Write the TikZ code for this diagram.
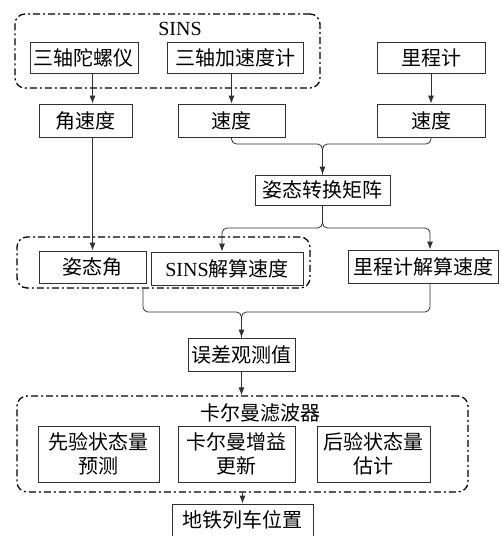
\documentclass[tikz,border=0pt]{standalone}
\usepackage{fontspec}
\setmainfont{Liberation Serif}
\newfontfamily\cjk{Noto Sans CJK SC}
\usetikzlibrary{arrows.meta}
\definecolor{ln}{HTML}{303030}
\tikzset{
  box/.style={draw=ln, line width=0.8pt, rectangle, inner sep=0pt, minimum height=32pt,
    font=\fontsize{20pt}{24pt}\selectfont\cjk, align=center, text=black},
  grp/.style={draw=black, line width=1.3pt, rectangle, rounded corners=10pt, inner sep=0pt,
    dash pattern=on 7pt off 3pt on 2pt off 3pt},
  lbl/.style={inner sep=0pt, font=\fontsize{20pt}{24pt}\selectfont, text=black},
  con/.style={draw=ln, line width=0.8pt, rounded corners=5pt},
  arr/.style={con, -{Latex[length=8pt,width=6pt]}}
}
\begin{document}
\begin{tikzpicture}[x=1pt,y=-1pt]
\useasboundingbox (0,0) rectangle (502,536);
% groups
\node[grp, minimum width=305pt, minimum height=74pt] (sinsg) at (167.5,51) {};
\node[grp, minimum width=293pt, minimum height=51pt] (lowg) at (163.5,262.5) {};
\node[grp, minimum width=451pt, minimum height=96pt] (kg) at (242.5,444) {};
\node[lbl] (sinsl) at (180,29) {SINS};
\node[lbl] (kl) at (260,413) {\cjk 卡尔曼滤波器};
% boxes
\node[box, minimum width=108pt, minimum height=31pt] (gyro) at (84,57.5) {三轴陀螺仪};
\node[box, minimum width=136pt, minimum height=31pt] (acc) at (235,57.5) {三轴加速度计};
\node[box, minimum width=108pt, minimum height=31pt] (odo) at (431,57.5) {里程计};
\node[box, minimum width=93pt, minimum height=33pt] (angv) at (85.5,120.5) {角速度};
\node[box, minimum width=107pt, minimum height=33pt] (vl) at (231.5,120.5) {速度};
\node[box, minimum width=108pt, minimum height=33pt] (vr) at (431,120.5) {速度};
\node[box, minimum width=135pt, minimum height=30pt] (mat) at (322.5,190) {姿态转换矩阵};
\node[box, minimum width=107pt, minimum height=32pt] (att) at (92.5,267) {姿态角};
\node[box, minimum width=152pt, minimum height=33pt] (sv) at (227,268.5) {{\rmfamily SINS}解算速度};
\node[box, minimum width=150pt, minimum height=33pt] (ov) at (423,266.5) {里程计解算速度};
\node[box, minimum width=107pt, minimum height=33pt] (err) at (241.5,354.5) {误差观测值};
\node[box, minimum width=121pt, minimum height=56pt] (k1) at (98.5,454) {先验状态量\\预测};
\node[box, minimum width=117pt, minimum height=56pt] (k2) at (236.5,454) {卡尔曼增益\\更新};
\node[box, minimum width=113pt, minimum height=56pt] (k3) at (373.5,454) {后验状态量\\估计};
\node[box, minimum width=141pt, minimum height=32pt] (pos) at (242.5,520) {地铁列车位置};
% junctions
\coordinate (j1) at (322.5,144);
\coordinate (j2) at (322.5,228);
\coordinate (j3) at (241.5,312);
% connectors
\draw[arr] (gyro.south -| att.north) -- (angv.north -| att.north);
\draw[arr] (angv.south -| att.north) -- (att.north);
\draw[arr] (acc.south -| vl.north) -- (vl.north);
\draw[arr] (odo.south) -- (vr.north);
\draw[con] (vr.south) |- (j1) -- (mat.north);
\draw[arr] (vl.south) |- (j1) -- (mat.north);
\draw[arr] (mat.south) -- (j2) -| ([xshift=-5pt]sv.north);
\draw[arr] (mat.south) -- (j2) -| ([xshift=7pt]ov.north);
\draw[con] ([xshift=7pt]ov.south) |- (j3) -- (err.north);
\draw[arr] ([xshift=-20.5pt]lowg.south) |- (j3) -- (err.north);
\draw[arr] (err.south) -- (kg.north -| err.south);
\draw[arr] (kg.south -| pos.north) -- (pos.north);
\end{tikzpicture}
\end{document}
